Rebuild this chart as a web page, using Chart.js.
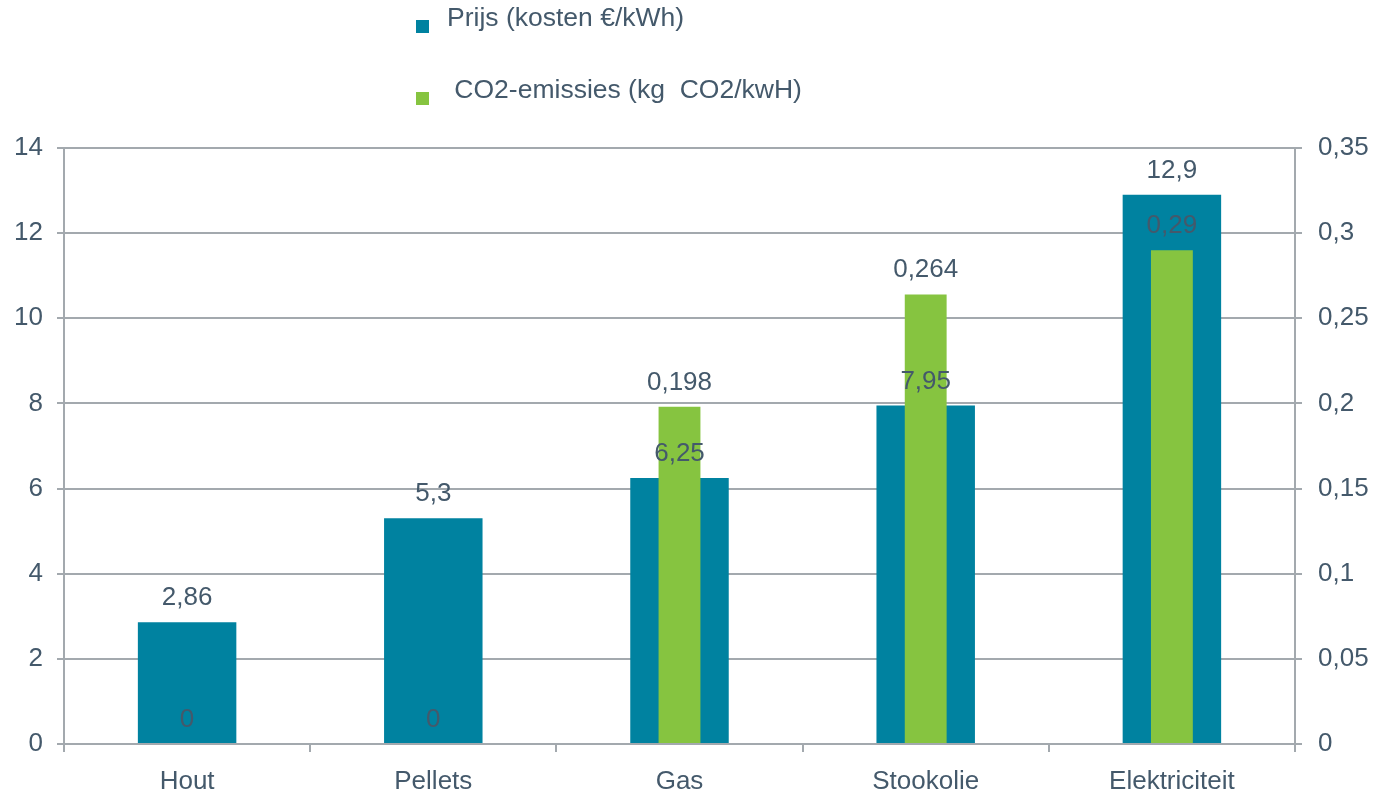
<!DOCTYPE html>
<html>
<head>
<meta charset="utf-8">
<script src="https://cdn.jsdelivr.net/npm/chart.js@4.4.1/dist/chart.umd.min.js"></script>
<style>
    html, body { margin: 0; padding: 0; background: #ffffff; }
    #wrap { width: 1375px; height: 791px; }
</style>
</head>
<body>
<div id="wrap"><canvas id="energyChart" width="1375" height="791"></canvas></div>
<script>
// Data
const categories = ['Hout', 'Pellets', 'Gas', 'Stookolie', 'Elektriciteit'];
const priceValues = [2.86, 5.3, 6.25, 7.95, 12.9];
const co2Values = [0, 0, 0.198, 0.264, 0.29];
const seriesLabels = ['Prijs (kosten €/kWh)', ' CO2-emissies (kg  CO2/kwH)'];
const leftTicks = [0, 2, 4, 6, 8, 10, 12, 14];
const rightTicks = [0, 0.05, 0.1, 0.15, 0.2, 0.25, 0.3, 0.35];

const textColor = '#44596b';
const gridColor = '#a3a9ae';
const fontFamily = "'Liberation Sans', Arial, sans-serif";

// Dutch decimal comma
function fmt(v) {
    return String(v).replace('.', ',');
}

// Legend: two rows stacked, drawn on the canvas
const stackedLegend = {
    id: 'stackedLegend',
    afterDraw(chart) {
        const ctx = chart.ctx;
        const rows = [
            { ds: chart.data.datasets[0], y: 26 },
            { ds: chart.data.datasets[1], y: 98 }
        ];
        ctx.save();
        ctx.font = '26.5px ' + fontFamily;
        ctx.textBaseline = 'alphabetic';
        ctx.textAlign = 'left';
        rows.forEach(row => {
            ctx.fillStyle = row.ds.backgroundColor;
            ctx.fillRect(416, row.y - 6, 13, 13);
            ctx.fillStyle = textColor;
            ctx.fillText(row.ds.label, 447, row.y);
        });
        ctx.restore();
    }
};

// Value labels above every bar, drawn after all bars
const valueLabels = {
    id: 'valueLabels',
    afterDatasetsDraw(chart) {
        const ctx = chart.ctx;
        ctx.save();
        ctx.font = '26px ' + fontFamily;
        ctx.fillStyle = textColor;
        ctx.textAlign = 'center';
        ctx.textBaseline = 'alphabetic';
        chart.data.datasets.forEach((ds, i) => {
            const meta = chart.getDatasetMeta(i);
            meta.data.forEach((bar, j) => {
                ctx.fillText(fmt(ds.data[j]), bar.x, bar.y - 17);
            });
        });
        ctx.restore();
    }
};

const ctx = document.getElementById('energyChart').getContext('2d');

new Chart(ctx, {
    type: 'bar',
    data: {
        labels: categories,
        datasets: [
            {
                label: seriesLabels[0],
                data: priceValues,
                backgroundColor: '#0082a0',
                yAxisID: 'y',
                grouped: false,
                order: 2,
                categoryPercentage: 1,
                barPercentage: 0.4
            },
            {
                label: seriesLabels[1],
                data: co2Values,
                backgroundColor: '#86c440',
                yAxisID: 'y1',
                grouped: false,
                order: 1,
                categoryPercentage: 1,
                barPercentage: 0.17
            }
        ]
    },
    options: {
        responsive: false,
        animation: false,
        devicePixelRatio: 1,
        layout: {
            padding: { top: 148, left: 0, right: 0, bottom: 0 }
        },
        plugins: {
            legend: { display: false },
            tooltip: { enabled: false }
        },
        scales: {
            x: {
                offset: true,
                afterFit: axis => { axis.height = 47; },
                grid: {
                    offset: true,
                    drawOnChartArea: false,
                    color: gridColor,
                    lineWidth: 2,
                    tickLength: 8
                },
                border: { color: gridColor, width: 2 },
                ticks: {
                    color: textColor,
                    padding: 14,
                    font: { family: fontFamily, size: 26 }
                }
            },
            y: {
                position: 'left',
                min: 0,
                max: 14,
                afterFit: axis => { axis.width = 64; },
                afterBuildTicks: axis => {
                    axis.ticks = leftTicks.map(v => ({ value: v }));
                },
                grid: {
                    color: gridColor,
                    lineWidth: 2,
                    tickLength: 7
                },
                border: { color: gridColor, width: 2 },
                ticks: {
                    color: textColor,
                    padding: 14,
                    font: { family: fontFamily, size: 26 },
                    callback: v => fmt(v)
                }
            },
            y1: {
                position: 'right',
                min: 0,
                max: 0.35,
                afterFit: axis => { axis.width = 80; },
                afterBuildTicks: axis => {
                    axis.ticks = rightTicks.map(v => ({ value: v }));
                },
                grid: {
                    drawOnChartArea: false,
                    color: gridColor,
                    lineWidth: 2,
                    tickLength: 7
                },
                border: { color: gridColor, width: 2 },
                ticks: {
                    color: textColor,
                    padding: 16,
                    font: { family: fontFamily, size: 26 },
                    callback: v => fmt(v)
                }
            }
        }
    },
    plugins: [valueLabels, stackedLegend]
});
</script>
</body>
</html>
